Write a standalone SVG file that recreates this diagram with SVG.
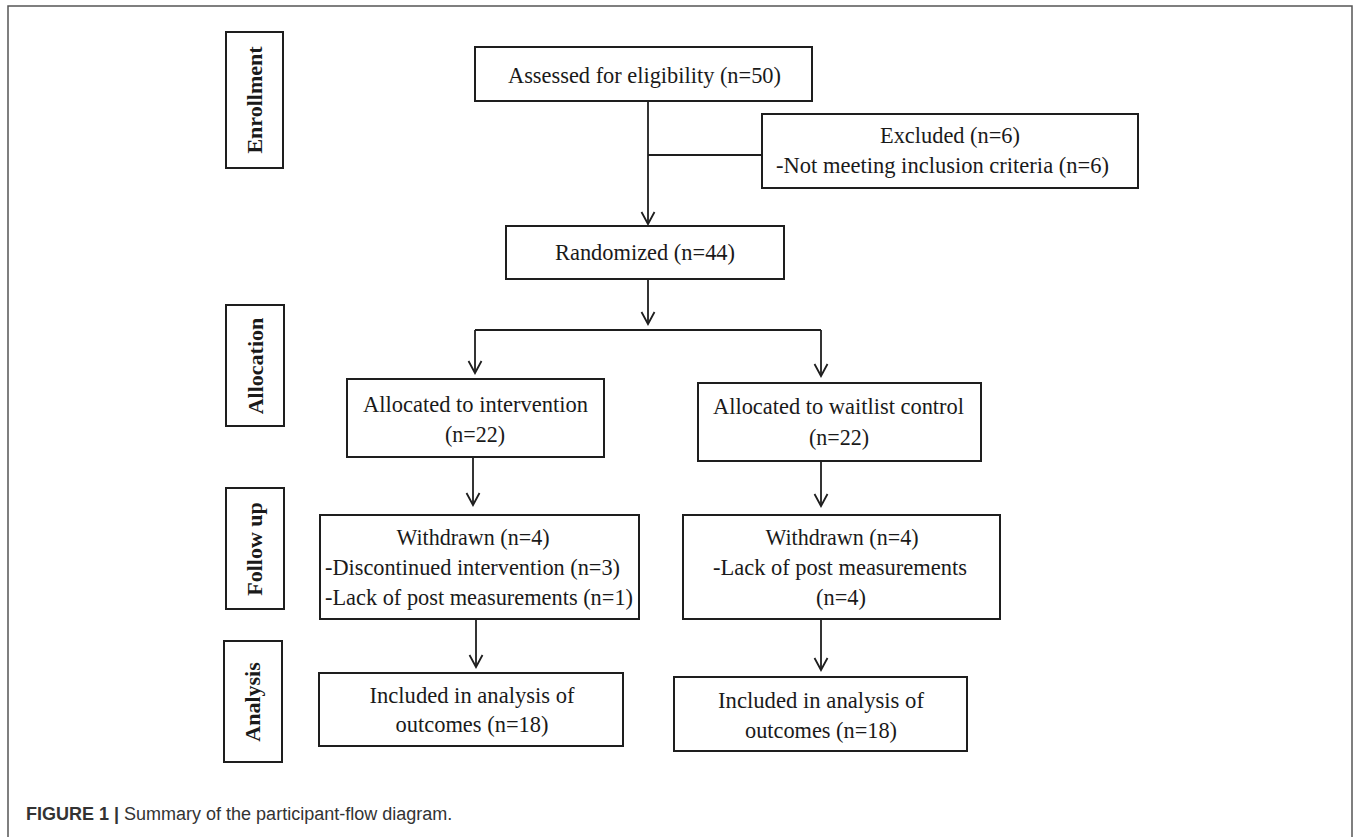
<svg xmlns="http://www.w3.org/2000/svg" width="1357" height="837" viewBox="0 0 1357 837">
<style>
.box{fill:#fff;stroke:#1e1e1e;stroke-width:2}
.t{font-family:"Liberation Serif","Times New Roman",serif;font-size:24px;fill:#1a1a1a}
.c{text-anchor:middle}
.lbl{font-family:"Liberation Serif","Times New Roman",serif;font-size:22px;font-weight:bold;fill:#1a1a1a;text-anchor:middle}
.ln{fill:none;stroke:#1e1e1e;stroke-width:1.8}
.cap{font-family:"Liberation Sans",Arial,sans-serif;font-size:18px;fill:#333}
</style>
<defs>
<marker id="arr" viewBox="-14 -8 16 16" markerWidth="16" markerHeight="16" refX="0" refY="0" orient="auto" markerUnits="userSpaceOnUse" overflow="visible">
<path d="M-12,-6.5 L0,0 L-12,6.5" fill="none" stroke="#1e1e1e" stroke-width="1.8"/>
</marker>
</defs>
<rect x="0" y="0" width="1357" height="837" fill="#fff"/>
<rect x="8" y="6" width="1344" height="900" fill="none" stroke="#555" stroke-width="1.5"/>

<g id="label-enrollment">
<rect class="box" x="226" y="32" width="57" height="136"/>
<text class="lbl" transform="translate(262,100) rotate(-90)">Enrollment</text>
</g>
<g id="label-allocation">
<rect class="box" x="226" y="305" width="58" height="121"/>
<text class="lbl" transform="translate(263,366) rotate(-90)">Allocation</text>
</g>
<g id="label-followup">
<rect class="box" x="226" y="488" width="58" height="121"/>
<text class="lbl" transform="translate(262,549) rotate(-90)">Follow up</text>
</g>
<g id="label-analysis">
<rect class="box" x="224" y="641" width="58" height="121"/>
<text class="lbl" transform="translate(260,702) rotate(-90)">Analysis</text>
</g>

<g id="connectors">
<line class="ln" x1="648" y1="101" x2="648" y2="224" marker-end="url(#arr)"/>
<line class="ln" x1="648" y1="155" x2="762" y2="155"/>
<line class="ln" x1="648" y1="279" x2="648" y2="324" marker-end="url(#arr)"/>
<line class="ln" x1="475" y1="330" x2="821" y2="330"/>
<line class="ln" x1="475" y1="330" x2="475" y2="373" marker-end="url(#arr)"/>
<line class="ln" x1="821" y1="330" x2="821" y2="376" marker-end="url(#arr)"/>
<line class="ln" x1="473" y1="457" x2="473" y2="505" marker-end="url(#arr)"/>
<line class="ln" x1="821" y1="461" x2="821" y2="506" marker-end="url(#arr)"/>
<line class="ln" x1="476" y1="619" x2="476" y2="667" marker-end="url(#arr)"/>
<line class="ln" x1="821" y1="619" x2="821" y2="670" marker-end="url(#arr)"/>
</g>

<g id="node-assessed">
<rect class="box" x="475" y="47" width="337" height="54"/>
<text class="t" x="508" y="83" textLength="273" lengthAdjust="spacingAndGlyphs">Assessed for eligibility (n=50)</text>
</g>
<g id="node-excluded">
<rect class="box" x="762" y="114" width="376" height="74"/>
<text class="t c" x="950" y="143" textLength="140" lengthAdjust="spacingAndGlyphs">Excluded (n=6)</text>
<text class="t" x="776" y="173" textLength="333" lengthAdjust="spacingAndGlyphs">-Not meeting inclusion criteria (n=6)</text>
</g>
<g id="node-randomized">
<rect class="box" x="506" y="226" width="278" height="53"/>
<text class="t" x="555" y="260" textLength="180" lengthAdjust="spacingAndGlyphs">Randomized (n=44)</text>
</g>
<g id="node-alloc-intervention">
<rect class="box" x="347" y="379" width="257" height="78"/>
<text class="t" x="363" y="412" textLength="225" lengthAdjust="spacingAndGlyphs">Allocated to intervention</text>
<text class="t c" x="475" y="442" textLength="60" lengthAdjust="spacingAndGlyphs">(n=22)</text>
</g>
<g id="node-alloc-waitlist">
<rect class="box" x="698" y="383" width="283" height="78"/>
<text class="t" x="713" y="414" textLength="251" lengthAdjust="spacingAndGlyphs">Allocated to waitlist control</text>
<text class="t c" x="839" y="445" textLength="60" lengthAdjust="spacingAndGlyphs">(n=22)</text>
</g>
<g id="node-withdrawn-intervention">
<rect class="box" x="320" y="515" width="319" height="104"/>
<text class="t c" x="473" y="545" textLength="153" lengthAdjust="spacingAndGlyphs">Withdrawn (n=4)</text>
<text class="t" x="325" y="575" textLength="295" lengthAdjust="spacingAndGlyphs">-Discontinued intervention (n=3)</text>
<text class="t" x="325" y="605" textLength="308" lengthAdjust="spacingAndGlyphs">-Lack of post measurements (n=1)</text>
</g>
<g id="node-withdrawn-waitlist">
<rect class="box" x="683" y="515" width="317" height="104"/>
<text class="t c" x="842" y="545" textLength="153" lengthAdjust="spacingAndGlyphs">Withdrawn (n=4)</text>
<text class="t" x="713" y="575" textLength="254" lengthAdjust="spacingAndGlyphs">-Lack of post measurements</text>
<text class="t c" x="841" y="605" textLength="50" lengthAdjust="spacingAndGlyphs">(n=4)</text>
</g>
<g id="node-included-intervention">
<rect class="box" x="319" y="673" width="304" height="73"/>
<text class="t c" x="472" y="703" textLength="205" lengthAdjust="spacingAndGlyphs">Included in analysis of</text>
<text class="t c" x="472" y="732" textLength="153" lengthAdjust="spacingAndGlyphs">outcomes (n=18)</text>
</g>
<g id="node-included-waitlist">
<rect class="box" x="674" y="677" width="293" height="74"/>
<text class="t c" x="821" y="708" textLength="206" lengthAdjust="spacingAndGlyphs">Included in analysis of</text>
<text class="t c" x="821" y="738" textLength="152" lengthAdjust="spacingAndGlyphs">outcomes (n=18)</text>
</g>

<text class="cap" x="26" y="820"><tspan font-weight="bold">FIGURE 1 |</tspan> Summary of the participant-flow diagram.</text>
</svg>
